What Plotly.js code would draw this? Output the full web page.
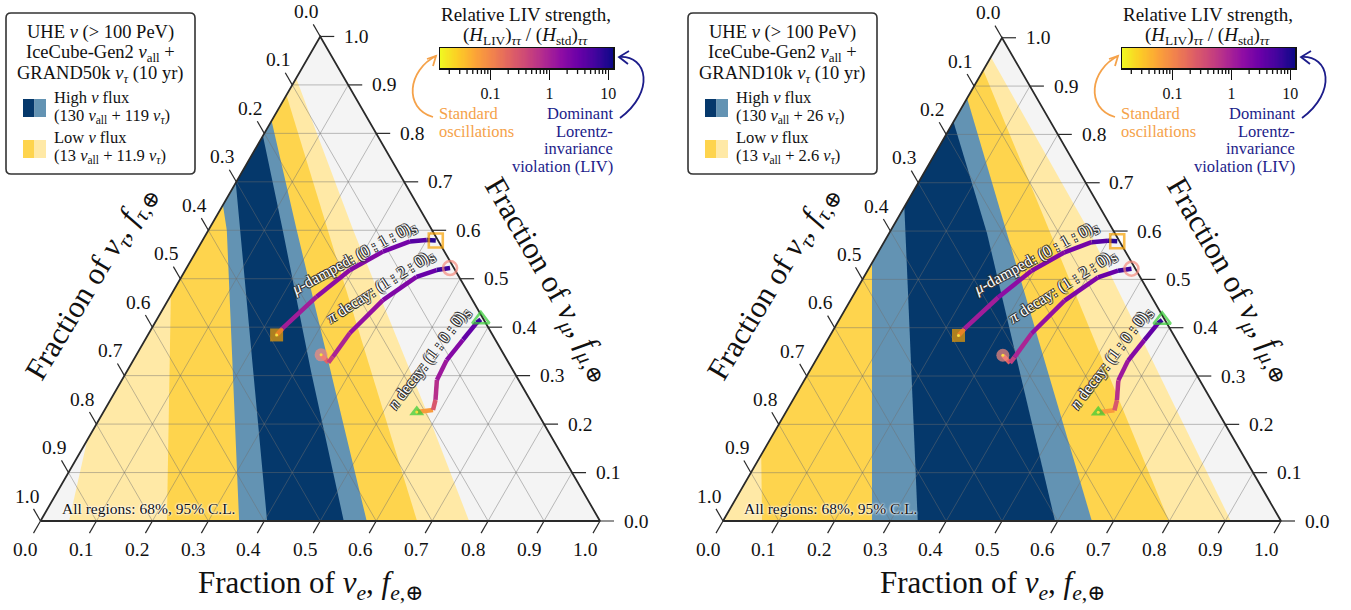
<!DOCTYPE html>
<html><head><meta charset="utf-8">
<script src="https://cdn.plot.ly/plotly-3.0.1.min.js"></script>
<style>html,body{margin:0;padding:0;background:#fff}</style>
</head><body><div id="chart" style="width:1351px;height:610px"></div>
<script>
// ================= DATA =================
const tickValues = [0,0.1,0.2,0.3,0.4,0.5,0.6,0.7,0.8,0.9,1.0];
const tickLabels = ['0.0','0.1','0.2','0.3','0.4','0.5','0.6','0.7','0.8','0.9','1.0'];
const gridValues = [0.1,0.2,0.3,0.4,0.5,0.6,0.7,0.8,0.9];

// Region boundaries, points [f_e, f_mu] from base up to the left edge
// Left panel: IceCube-Gen2 + GRAND50k
const g50_edge1 = [[0.051,0],[0,0.167]];
const g50_edge2 = [[0.226,0],[0,0.466]];
const g50_edge3 = [[0.355,0],[0.033,0.60],[0,0.652]];
const g50_edge4 = [[0.405,0],[0.057,0.60],[0,0.698]];
const g50_edge5 = [[0.542,0],[0.330,0.3075],[0.133,0.60],[0,0.795]];
const g50_edge6 = [[0.583,0],[0.158,0.60],[0,0.826]];
const g50_edge7 = [[0.673,0],[0.214,0.60],[0,0.879]];
const g50_edge8 = [[0.766,0],[0.592,0.2085],[0.259,0.60],[0,0.914]];
// Right panel: IceCube-Gen2 + GRAND10k
const g10_edge1 = [[0,0]];
const g10_edge2 = [[0.070,0],[0,0.137]];
const g10_edge3 = [[0.267,0],[0,0.534]];
const g10_edge4 = [[0.349,0],[0,0.650]];
const g10_edge5 = [[0.595,0],[0.175,0.596],[0,0.826]];
const g10_edge6 = [[0.661,0],[0.211,0.596],[0,0.875]];
const g10_edge7 = [[0.799,0],[0.289,0.596],[0,0.933]];
const g10_edge8 = [[0.910,0],[0.360,0.596],[0,0.960]];

// Flavor-ratio paths vs. relative LIV strength
const muDamped_fe  = [0.230,0.234,0.262,0.294,0.334,0.372,0.400,0.417];
const muDamped_fmu = [0.384,0.398,0.463,0.518,0.556,0.577,0.580,0.579];
const muDamped_liv = [0.3,0.8,1.5,1.8,2.2,3,6,12];
const piDecay_fe   = [0.330,0.351,0.353,0.359,0.384,0.420,0.449,0.471];
const piDecay_fmu  = [0.343,0.327,0.339,0.388,0.456,0.504,0.518,0.522];
const piDecay_liv  = [0.12,0.35,0.7,1.2,1.8,2.5,4,10];
const nDecay_fe    = [0.560,0.587,0.581,0.563,0.560,0.568,0.575,0.579];
const nDecay_fmu   = [0.225,0.229,0.250,0.291,0.332,0.374,0.409,0.416];
const nDecay_liv   = [0.03,0.15,0.5,1.0,1.5,2.5,5,10];

const colorbarMajor = [0.1,1,10];
const colorbarMajorText = ['0.1','1','10'];
const colorbarMinor = [0.02,0.03,0.04,0.05,0.06,0.07,0.08,0.09,0.2,0.3,0.4,0.5,0.6,0.7,0.8,0.9,2,3,4,5,6,7,8,9];
const colorbarLimits = [0.0139, 12];

// ================= STYLE / GEOMETRY =================
const W=1351, H=610, S3=Math.sqrt(3)/2;
const FONT='Liberation Serif, DejaVu Serif, serif';
const regionFill=['#ffe9a6','#fed44d','#6393b3','#05386b'];
const bgFill='#f4f4f4';
const plasma=['#0d0887','#41049d','#6a00a8','#8f0da4','#b12a90','#cc4778','#e16462','#f2844b','#fca636','#fcce25','#f0f921'];
const vmin=Math.log10(colorbarLimits[0]), vmax=Math.log10(colorbarLimits[1]);

function hex2rgb(h){return [1,3,5].map(i=>parseInt(h.substr(i,2),16));}
function plasmaAt(t){ // t=0 -> dark, 1 -> yellow
  t=Math.max(0,Math.min(1,t)); const f=t*10, i=Math.min(9,Math.floor(f)), u=f-i;
  const a=hex2rgb(plasma[i]), b=hex2rgb(plasma[i+1]);
  return 'rgb('+a.map((v,k)=>Math.round(v+(b[k]-v)*u)).join(',')+')';
}
function livColor(v){ const s=(Math.log10(v)-vmin)/(vmax-vmin); return plasmaAt(1-s); }
const cbScale=plasma.slice().reverse().map((c,i)=>[i/10,c]);

const panels=[
  {xa:'x',ya:'y',x0:40.5,x1:600,base:521,dx:0,dom:[0,0.5],
   edges:[g50_edge1,g50_edge2,g50_edge3,g50_edge4,g50_edge5,g50_edge6,g50_edge7,g50_edge8],
   title3:'GRAND50k <i>ν</i><sub><i>τ</i></sub> (10 yr)',
   high:'(130 <i>ν</i><sub>all</sub> + 119 <i>ν</i><sub><i>τ</i></sub>)',
   low:'(13 <i>ν</i><sub>all</sub> + 11.9 <i>ν</i><sub><i>τ</i></sub>)'},
  {xa:'x2',ya:'y2',x0:723,x1:1281,base:521,dx:682,dom:[0.5,1],
   edges:[g10_edge1,g10_edge2,g10_edge3,g10_edge4,g10_edge5,g10_edge6,g10_edge7,g10_edge8],
   title3:'GRAND10k <i>ν</i><sub><i>τ</i></sub> (10 yr)',
   high:'(130 <i>ν</i><sub>all</sub> + 26 <i>ν</i><sub><i>τ</i></sub>)',
   low:'(13 <i>ν</i><sub>all</sub> + 2.6 <i>ν</i><sub><i>τ</i></sub>)'}
];

function cart(fe,fmu){return [fe+fmu/2, fmu*S3];}
const traces=[], annotations=[], shapes=[];
const X=px=>px/W, Y=py=>1-py/H;
function txt(px,py,text,o){
  o=o||{};
  const font=Object.assign({family:FONT,size:18.5,color:'#111'},o.font||{});
  const a=Object.assign({xref:'paper',yref:'paper',x:X(px),y:Y(py),text:text,showarrow:false,xanchor:'center',yanchor:'middle',borderpad:0},o);
  a.font=font; annotations.push(a);
}
function base(pd){return {type:'scatter',xaxis:pd.xa,yaxis:pd.ya,hoverinfo:'skip',showlegend:false};}

const layout={width:W,height:H,margin:{l:0,r:0,t:0,b:0},paper_bgcolor:'#fff',plot_bgcolor:'rgba(0,0,0,0)',showlegend:false};

panels.forEach((pd,pi)=>{
  const unit=pd.x1-pd.x0;
  const xr=[(pd.dom[0]*W-pd.x0)/unit,(pd.dom[1]*W-pd.x0)/unit];
  const yr=[-(H-pd.base)/unit, pd.base/unit];
  const sfx=pi===0?'':'2';
  layout['xaxis'+sfx]={domain:pd.dom,range:xr,visible:false,fixedrange:true,anchor:'y'+sfx};
  layout['yaxis'+sfx]={domain:[0,1],range:yr,visible:false,fixedrange:true,anchor:'x'+sfx};

  // background triangle
  traces.push(Object.assign(base(pd),{mode:'lines',x:[0,1,0.5,0],y:[0,0,S3,0],fill:'toself',fillcolor:bgFill,line:{width:0}}));
  // nested confidence regions
  for(let k=0;k<4;k++){
    const L=pd.edges[k], R=pd.edges[7-k];
    const pts=L.concat(R.slice().reverse()); pts.push(L[0]);
    const xy=pts.map(p=>cart(p[0],p[1]));
    traces.push(Object.assign(base(pd),{mode:'lines',x:xy.map(a=>a[0]),y:xy.map(a=>a[1]),fill:'toself',fillcolor:regionFill[k],line:{width:0}}));
  }
  // grid
  const gx=[],gy=[];
  gridValues.forEach(g=>{
    [[cart(g,0),cart(g,1-g)],[cart(0,g),cart(1-g,g)],[cart(1-g,0),cart(0,1-g)]].forEach(s=>{
      gx.push(s[0][0],s[1][0],null); gy.push(s[0][1],s[1][1],null);
    });
  });
  traces.push(Object.assign(base(pd),{mode:'lines',x:gx,y:gy,line:{color:'rgba(110,110,110,0.45)',width:1}}));
  // ticks
  const L=14/unit, tx=[],ty=[];
  tickValues.forEach((t,i)=>{
    const b=cart(t,0), r=cart(1-t,t), l=cart(0,1-t);
    tx.push(b[0],b[0]-0.5*L,null, r[0],r[0]+L,null, l[0],l[0]-0.5*L,null);
    ty.push(b[1],b[1]-S3*L,null, r[1],r[1],null, l[1],l[1]+S3*L,null);
    const f={family:FONT,size:19.5,color:'#111'};
    annotations.push({xref:pd.xa,yref:pd.ya,x:b[0],y:b[1],text:tickLabels[i],showarrow:false,xshift:-15.5,yshift:-28,font:f,borderpad:0});
    annotations.push({xref:pd.xa,yref:pd.ya,x:r[0],y:r[1],text:tickLabels[i],showarrow:false,xshift:36,yshift:0,font:f,borderpad:0});
    annotations.push({xref:pd.xa,yref:pd.ya,x:l[0],y:l[1],text:tickLabels[i],showarrow:false,xshift:-14,yshift:25,font:f,borderpad:0});
  });
  traces.push(Object.assign(base(pd),{mode:'lines',x:tx,y:ty,line:{color:'#2a2a2a',width:1.2}}));
  // outline
  traces.push(Object.assign(base(pd),{mode:'lines',x:[0,1,0.5,0],y:[0,0,S3,0],line:{color:'#2a2a2a',width:1.8}}));

  // paths
  const curves=[[muDamped_fe,muDamped_fmu,muDamped_liv],[piDecay_fe,piDecay_fmu,piDecay_liv],[nDecay_fe,nDecay_fmu,nDecay_liv]];
  const mSym=['square','circle','triangle-up'], mCol=['#f5a000','#f58a7e','#33cc33'];
  const startXY=curves.map(c=>cart(c[0][0],c[1][0]));
  const endXY=curves.map(c=>{const n=c[0].length-1; return cart(c[0][n],c[1][n]);});
  curves.forEach(c=>{
    for(let i=0;i<c[0].length-1;i++){
      const p=cart(c[0][i],c[1][i]), q=cart(c[0][i+1],c[1][i+1]);
      const v=Math.sqrt(c[2][i]*c[2][i+1]);
      traces.push(Object.assign(base(pd),{mode:'lines',x:[p[0],q[0]],y:[p[1],q[1]],line:{color:livColor(v),width:4.5}}));
    }
  });
  traces.push(Object.assign(base(pd),{mode:'markers',x:startXY.map(a=>a[0]),y:startXY.map(a=>a[1]),marker:{symbol:mSym,color:mCol,size:[13,13,13],line:{width:0}}}));
  traces.push(Object.assign(base(pd),{mode:'markers',x:startXY.map(a=>a[0]),y:startXY.map(a=>a[1]),marker:{symbol:'circle',color:'#f7e040',size:3,line:{width:0}}}));
  traces.push(Object.assign(base(pd),{mode:'markers',x:endXY.map(a=>a[0]),y:endXY.map(a=>a[1]),marker:{symbol:mSym.map(s=>s+'-open'),color:mCol,size:[14,14,15],line:{width:2.6}}}));

  const dx=pd.dx;
  // axis titles
  txt(310+dx,585,'Fraction of <i>ν<sub>e</sub></i>, <i>f</i><sub><i>e</i>,⊕</sub>',{font:{size:31}});
  txt(92+dx,283,'Fraction of <i>ν<sub>τ</sub></i>, <i>f</i><sub><i>τ</i>,⊕</sub>',{font:{size:31},textangle:-59});
  txt(548+dx,280,'Fraction of <i>ν<sub>μ</sub></i>, <i>f</i><sub><i>μ</i>,⊕</sub>',{font:{size:31},textangle:60});
  // curve labels
  const halo='-1px -1px 0 #333, 1px -1px 0 #333, -1px 1px 0 #333, 1px 1px 0 #333';
  txt(353+dx,258,'<i>μ</i>-damped: (0 : 1 : 0)<sub>S</sub>',{textangle:-28.5,font:{size:16,color:'#fff',shadow:halo}});
  txt(381+dx,287,'<i>π</i> decay: (1 : 2 : 0)<sub>S</sub>',{textangle:-32.5,font:{size:16,color:'#fff',shadow:halo}});
  txt(429+dx,358,'<i>n</i> decay: (1 : 0 : 0)<sub>S</sub>',{textangle:-53,font:{size:16,color:'#fff',shadow:halo}});
  txt(149+dx,508,'All regions: 68%, 95% C.L.',{font:{size:15.5,color:'#111',shadow:'0 0 2px #fff, 0 0 2px #fff, 0 0 3px #fff'}});

  // legend box
  const bx0=6+dx,bx1=195+dx,by0=13,by1=174,rr=5;
  shapes.push({type:'path',xref:'paper',yref:'paper',fillcolor:'#fff',line:{color:'#333',width:1.6},
    path:`M ${X(bx0+rr)},${Y(by0)} L ${X(bx1-rr)},${Y(by0)} Q ${X(bx1)},${Y(by0)} ${X(bx1)},${Y(by0+rr)} L ${X(bx1)},${Y(by1-rr)} Q ${X(bx1)},${Y(by1)} ${X(bx1-rr)},${Y(by1)} L ${X(bx0+rr)},${Y(by1)} Q ${X(bx0)},${Y(by1)} ${X(bx0)},${Y(by1-rr)} L ${X(bx0)},${Y(by0+rr)} Q ${X(bx0)},${Y(by0)} ${X(bx0+rr)},${Y(by0)} Z`});
  txt(100+dx,32,'UHE <i>ν</i> (> 100 PeV)');
  txt(100+dx,53,'IceCube-Gen2 <i>ν</i><sub>all</sub> +');
  txt(100+dx,74,pd.title3);
  const sw=(x0,x1,y0,y1,c)=>shapes.push({type:'rect',xref:'paper',yref:'paper',x0:X(x0),x1:X(x1),y0:Y(y1),y1:Y(y0),fillcolor:c,line:{width:0}});
  sw(23+dx,34.5+dx,99,117,regionFill[3]); sw(34.5+dx,46+dx,99,117,regionFill[2]);
  sw(23+dx,34.5+dx,140,158,regionFill[1]); sw(34.5+dx,46+dx,140,158,regionFill[0]);
  txt(53+dx,97,'High <i>ν</i> flux',{xanchor:'left',font:{size:16.5}});
  txt(53+dx,116,pd.high,{xanchor:'left',font:{size:16.5}});
  txt(53+dx,137,'Low <i>ν</i> flux',{xanchor:'left',font:{size:16.5}});
  txt(53+dx,156,pd.low,{xanchor:'left',font:{size:16.5}});

  // colorbar
  const cx0=440+dx, cx1=613+dx, sx=pi===0?'3':'4';
  layout['xaxis'+sx]={domain:[X(cx0),X(cx1)],anchor:'y'+sx,range:[vmin,vmax],fixedrange:true,showgrid:false,zeroline:false,
    tickmode:'array',tickvals:colorbarMajor.map(Math.log10),ticktext:colorbarMajorText,ticks:'outside',ticklen:10,tickwidth:1.3,tickcolor:'#111',
    tickfont:{family:FONT,size:16,color:'#111'},showline:true,mirror:true,linecolor:'#111',linewidth:1.5};
  layout['yaxis'+sx]={domain:[Y(68),Y(48)],anchor:'x'+sx,range:[0,1],fixedrange:true,showgrid:false,zeroline:false,showticklabels:false,ticks:'',showline:true,mirror:true,linecolor:'#111',linewidth:1.5};
  colorbarMinor.forEach(m=>shapes.push({type:'line',xref:'x'+sx,yref:'paper',x0:Math.log10(m),x1:Math.log10(m),y0:Y(68),y1:Y(74),line:{color:'#111',width:1.3}}));
  const cbx=[]; for(let i=0;i<=150;i++) cbx.push(vmin+(vmax-vmin)*i/150);
  traces.push({type:'heatmap',xaxis:'x'+sx,yaxis:'y'+sx,x:cbx,y:[0.5],z:[cbx],colorscale:cbScale,zmin:vmin,zmax:vmax,showscale:false,hoverinfo:'skip'});
  txt(526+dx,14,'Relative LIV strength,',{font:{size:19}});
  txt(526+dx,36,'(<i>H</i><sub>LIV</sub>)<sub><i>ττ</i></sub> / (<i>H</i><sub>std</sub>)<sub><i>ττ</i></sub>',{font:{size:19}});
  const orange='#f5a24a', navy='#1c1c8a';
  txt(438+dx,113,'Standard',{xanchor:'left',font:{size:16.5,color:orange}});
  txt(438+dx,131,'oscillations',{xanchor:'left',font:{size:16.5,color:orange}});
  txt(614+dx,113,'Dominant',{xanchor:'right',font:{size:16.5,color:navy}});
  txt(614+dx,131,'Lorentz-',{xanchor:'right',font:{size:16.5,color:navy}});
  txt(614+dx,149,'invariance',{xanchor:'right',font:{size:16.5,color:navy}});
  txt(614+dx,167,'violation (LIV)',{xanchor:'right',font:{size:16.5,color:navy}});
  // curved arrows
  shapes.push({type:'path',xref:'paper',yref:'paper',line:{color:orange,width:1.8},
    path:`M ${X(433+dx)},${Y(117)} C ${X(403+dx)},${Y(108)} ${X(408+dx)},${Y(70)} ${X(436+dx)},${Y(56)}`});
  shapes.push({type:'path',xref:'paper',yref:'paper',line:{color:orange,width:1.8},
    path:`M ${X(427+dx)},${Y(59)} L ${X(436+dx)},${Y(56)} L ${X(433+dx)},${Y(66)}`});
  shapes.push({type:'path',xref:'paper',yref:'paper',line:{color:navy,width:1.8},
    path:`M ${X(620+dx)},${Y(118)} C ${X(655+dx)},${Y(92)} ${X(648+dx)},${Y(55)} ${X(619+dx)},${Y(57)}`});
  shapes.push({type:'path',xref:'paper',yref:'paper',line:{color:navy,width:1.8},
    path:`M ${X(629+dx)},${Y(51)} L ${X(619+dx)},${Y(57)} L ${X(628+dx)},${Y(64)}`});
});

layout.annotations=annotations; layout.shapes=shapes;
Plotly.newPlot('chart',traces,layout,{staticPlot:true,displayModeBar:false});
</script></body></html>
